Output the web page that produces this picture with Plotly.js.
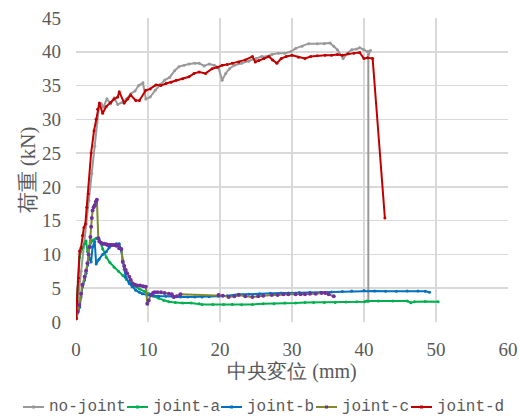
<!DOCTYPE html>
<html>
<head>
<meta charset="utf-8">
<script src="https://cdn.plot.ly/plotly-3.0.1.min.js"></script>
<style>html,body{margin:0;padding:0;background:#fff;}#chart{width:519px;height:416px;}</style>
</head>
<body>
<div id="chart"></div>
<script>
// ---- data ----
const seriesNames = ["no-joint", "joint-a", "joint-b", "joint-c", "joint-d"];

const noJointX = [0,0.3,0.7,1.0,1.4,1.8,2.2,2.6,2.9,3.2,3.5,3.8,4.3,4.8,5.3,5.8,6.4,7.0,7.6,8.2,8.7,9.3,9.7,10.3,11.0,11.7,12.3,13.0,13.7,14.3,15.0,15.7,16.5,17.1,17.8,18.5,19.2,19.8,20.3,20.8,21.3,22.0,23.0,24.0,25.0,25.8,26.5,27.2,28.1,29.0,29.8,30.5,31.4,32.3,33.5,34.5,35.3,35.8,36.3,37.1,37.7,38.3,39.0,39.4,40.0,40.5,40.9,40.6,40.6];
const noJointY = [0.5,3.5,7.5,11,14.5,18,22,26,29.5,32.0,32.3,31.8,33.0,32.3,33.2,32.2,32.5,33.0,33.8,34.2,35.0,35.4,33.0,33.3,34.3,35.2,35.8,36.2,37.2,37.8,38.0,38.2,38.3,38.3,37.9,38.2,38.0,37.6,35.8,36.8,37.5,38.0,38.3,38.6,39.0,39.3,39.3,39.6,39.8,39.8,40.0,40.5,40.8,41.2,41.2,41.2,41.3,40.8,40.3,39.0,39.8,40.3,40.4,40.6,40.3,40.0,40.2,39.6,3.0];

const jointAX = [0,0.1,0.3,0.5,0.8,1.2,1.4,1.6,1.9,2.3,2.8,3.25,3.7,4.2,4.7,5.3,5.9,6.5,7.0,7.4,8.1,8.8,9.5,10.2,10.8,11.5,12.2,12.9,13.8,14.8,16.0,17.1,17.5,19,20.5,21.7,23,24.5,26,27.5,29,30.5,31.8,33,34.5,36,37.5,39,40.1,40.4,42,44,46,46.5,47,48.5,50.3];
const jointAY = [0.5,3.5,6,9.6,10.8,11.6,12.0,10.4,11.3,12.1,12.4,12.1,10.8,9.6,8.8,8.1,7.5,6.9,6.3,5.9,5.3,4.9,4.5,4.2,3.8,3.5,3.2,3.0,2.9,2.8,2.8,2.7,2.6,2.6,2.6,2.6,2.55,2.6,2.7,2.7,2.8,2.8,2.9,2.9,2.9,2.9,2.95,3.0,3.0,3.1,3.1,3.1,3.1,2.85,3.0,3.05,3.0];

const jointBX = [0,0.5,0.7,0.9,1.2,1.4,1.6,1.8,2.1,2.3,2.6,2.8,3.2,3.7,4.2,4.6,5.1,5.6,6.0,6.3,6.5,6.7,6.9,7.4,7.8,8.3,8.8,9.2,9.9,10.6,11.5,12.5,13.5,14.5,15.5,16.5,17.5,18.5,19.8,21,22.6,24,25.5,27,28.5,29.5,31,32.5,34,35.5,37,38.3,40,41.5,43,44.5,46,47.5,48.5,49.1];
const jointBY = [0.5,2.2,3.7,5.2,6.2,7.2,8.4,9.6,8.9,11.1,11.9,8.6,9.3,10.0,10.4,11.0,11.4,11.6,11.6,10.5,9.1,7.8,6.7,5.7,5.2,4.7,4.4,4.2,4.0,3.9,3.8,3.8,3.7,3.7,3.7,3.7,3.7,3.75,3.8,3.9,4.1,4.1,4.2,4.25,4.3,4.3,4.35,4.4,4.4,4.45,4.5,4.6,4.65,4.6,4.55,4.55,4.6,4.6,4.55,4.4];

const jointCX = [0,0.25,0.45,0.7,0.9,1.2,1.4,1.6,1.75,1.9,2.0,2.1,2.2,2.3,2.45,2.6,2.75,2.9,3.1,3.25,3.5,3.7,3.9,4.2,4.4,4.6,4.8,5.0,5.3,5.6,5.8,6.0,6.3,6.5,6.7,6.9,7.1,7.4,7.6,7.9,8.2,8.5,8.9,9.3,9.7,9.9,10.1,10.4,10.7,10.9,11.3,11.8,12.3,12.9,13.3,13.6,14.0,14.5,19.8,20.4,21.2,22.0,22.6,23.5,24.5,25.3,26.0,27.2,28.0,28.8,29.5,30.5,31.2,31.8,32.5,33.3,34.1,34.6,35.1,35.8];
const jointCY = [0.5,1.5,2.5,4.2,5.5,6.7,7.6,8.7,10.0,11.1,12.6,14.1,15.4,16.5,17.0,17.3,17.8,18.1,12.4,11.9,11.7,11.6,11.6,11.5,11.4,11.4,11.4,11.4,11.4,11.3,11.4,10.9,10.8,8.9,8.3,7.7,7.2,6.7,6.2,5.7,5.5,5.4,5.4,5.3,5.2,2.7,3.2,4.0,4.3,4.4,4.4,4.4,4.3,4.2,4.1,3.7,3.8,4.1,4.0,3.9,3.7,3.8,4.0,3.8,3.7,3.8,3.9,4.0,4.0,4.1,4.1,4.1,4.1,4.1,4.2,4.2,4.3,4.3,4.1,3.8];

const jointDX = [0,0.15,0.35,0.5,0.7,0.9,1.1,1.3,1.5,1.7,2.1,2.5,2.8,3.0,3.25,3.7,4.2,4.8,5.3,5.8,6.0,6.7,7.2,7.6,8.3,8.8,9.7,10.3,11.1,11.8,12.5,13.2,13.9,14.8,15.7,16.4,17.1,18.0,18.9,19.6,20.3,21.0,21.7,22.6,23.5,24.5,24.9,25.4,26.1,26.8,27.3,27.9,28.5,29.2,30.0,30.9,31.8,32.6,33.5,34.6,35.5,36.3,37.0,37.8,38.6,39.4,40.0,40.5,41.2,42.9];
const jointDY = [0.5,3,6.5,10.5,11,12.8,14,14.5,17,19,25,28.3,30,31.5,32.4,30.9,31.9,32.5,33.0,33.3,34.1,32.4,33.0,33.6,32.8,32.8,34.3,34.5,35.1,35.0,35.3,35.5,35.8,36.0,36.3,36.8,37.0,36.8,37.5,37.7,38.0,38.1,38.3,38.5,38.8,39.3,38.5,38.7,39.0,39.3,38.8,38.3,39.0,39.3,39.5,39.2,39.0,39.3,39.4,39.5,39.5,39.6,39.5,39.7,39.8,39.9,39.0,39.1,39.0,15.4];

const xTicks = [0,10,20,30,40,50,60];
const yTicks = [0,5,10,15,20,25,30,35,40,45];
const xTitle = "中央変位 (mm)";
const yTitle = "荷重 (kN)";

// ---- styles ----
const lineColors = ["#999999", "#00B050", "#0070C0", "#7F8A2E", "#C00000"];
const markerColors = ["#999999", "#00B050", "#0070C0", "#7030A0", "#C00000"];
const markerSizes = [3, 3, 3, 4, 3];
const xs = [noJointX, jointAX, jointBX, jointCX, jointDX];
const ys = [noJointY, jointAY, jointBY, jointCY, jointDY];

const traces = seriesNames.map((n, i) => ({
  type: "scatter", mode: "lines+markers", name: n,
  x: xs[i], y: ys[i],
  line: {color: lineColors[i], width: 2},
  marker: {color: markerColors[i], size: markerSizes[i]},
  showlegend: false, hoverinfo: "skip"
}));

const textColor = "#595959";
const titleFam = "Liberation Serif";

// custom legend (paper coords)
const L = {l: 76, r: 11, t: 18, b: 94, W: 519, H: 416};
const pw = L.W - L.l - L.r, ph = L.H - L.t - L.b;
const px2paperX = p => (p - L.l) / pw;
const px2paperY = p => (L.H - L.b - p) / ph;
const legendLineStart = [23, 127, 221, 316, 411];
const legendY = 407;
const shapes = [], annotations = [];
seriesNames.forEach((n, i) => {
  const x0 = legendLineStart[i], x1 = x0 + 21;
  shapes.push({type: "line", xref: "paper", yref: "paper",
    x0: px2paperX(x0), x1: px2paperX(x1), y0: px2paperY(legendY), y1: px2paperY(legendY),
    line: {color: lineColors[i], width: 2}});
  const mx = (x0 + x1) / 2;
  shapes.push({type: "rect", xref: "paper", yref: "paper",
    x0: px2paperX(mx - 1.5), x1: px2paperX(mx + 1.5), y0: px2paperY(legendY + 1.5), y1: px2paperY(legendY - 1.5),
    fillcolor: markerColors[i], line: {width: 0}});
  annotations.push({xref: "paper", yref: "paper", x: px2paperX(x1 + 3), y: px2paperY(legendY),
    xanchor: "left", yanchor: "middle", showarrow: false, text: n,
    font: {family: "Liberation Mono", size: 16, color: textColor}});
});

const layout = {
  width: 519, height: 416,
  margin: {l: L.l, r: L.r, t: L.t, b: L.b, pad: 0},
  paper_bgcolor: "#ffffff", plot_bgcolor: "#ffffff",
  showlegend: false,
  xaxis: {
    range: [0, 60], tickvals: xTicks, ticktext: xTicks.map(String),
    showgrid: true, gridcolor: "#D9D9D9", gridwidth: 1.5,
    zeroline: false, showline: false, ticks: "",
    ticklabelstandoff: 14, tickfont: {family: "Liberation Serif", size: 19, color: textColor},
    title: {text: xTitle, font: {family: titleFam, size: 20, color: textColor}, standoff: 0},
    fixedrange: true
  },
  yaxis: {
    range: [0, 45], tickvals: yTicks, ticktext: yTicks.map(String),
    showgrid: true, gridcolor: "#D9D9D9", gridwidth: 1.5,
    zeroline: false, showline: false, ticks: "",
    ticklabelstandoff: 14, tickfont: {family: "Liberation Serif", size: 19, color: textColor},
    title: {text: yTitle, font: {family: titleFam, size: 21, color: textColor}, standoff: 0},
    fixedrange: true
  },
  shapes: shapes,
  annotations: annotations
};

Plotly.newPlot("chart", traces, layout, {staticPlot: true, displayModeBar: false});
</script>
</body>
</html>
